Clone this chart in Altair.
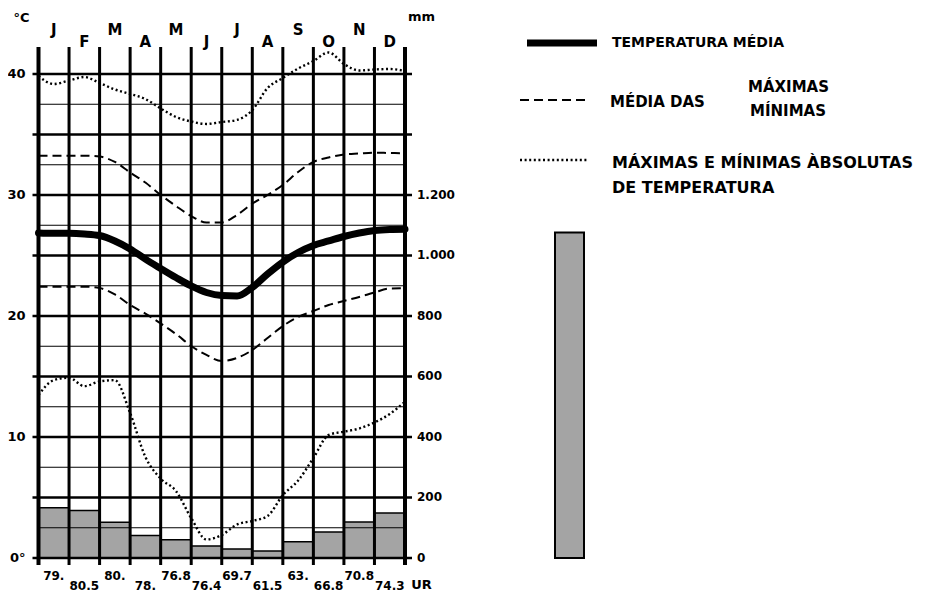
import altair as alt
import pandas as pd

months = ["J", "F", "M", "A", "M", "J", "J", "A", "S", "O", "N", "D"]
precip_mm = [166, 157, 118, 74, 60, 40, 30, 23, 54, 86, 119, 149]
humidity = ["79.", "80.5", "80.", "78.", "76.8", "76.4", "69.7", "61.5",
            "63.", "66.8", "70.8", "74.3"]

# curve readings every half month (0 = start of January, 12 = end of December)
curve_pos = [i / 2 for i in range(25)]
t_mean = [26.86, 26.83, 26.83, 26.78, 26.65, 26.2, 25.54, 24.7, 23.93, 23.18,
          22.48, 21.94, 21.69, 21.65, 22.36, 23.47, 24.46, 25.25, 25.83, 26.2,
          26.57, 26.86, 27.07, 27.15, 27.17]
t_max_mean = [33.25, 33.25, 33.25, 33.25, 33.18, 32.73, 31.86, 31.03, 30.0, 29.09,
              28.26, 27.73, 27.73, 28.35, 29.28, 30.0, 30.83, 31.9, 32.73, 33.1,
              33.35, 33.43, 33.5, 33.47, 33.45]
t_min_mean = [22.42, 22.42, 22.42, 22.42, 22.31, 21.78, 20.91, 20.2, 19.38, 18.51,
              17.52, 16.78, 16.28, 16.53, 17.19, 18.18, 19.17, 19.92, 20.41, 20.91,
              21.24, 21.57, 21.94, 22.27, 22.29]
t_max_abs = [39.83, 39.17, 39.46, 39.75, 39.26, 38.72, 38.35, 37.93, 37.15, 36.45,
             36.07, 35.87, 36.03, 36.2, 37.02, 38.84, 39.67, 40.45, 41.07, 41.78,
             40.83, 40.29, 40.37, 40.41, 40.25]
t_min_abs = [13.47, 14.7, 14.9, 14.2, 14.59, 14.7, 11.98, 8.35, 6.56, 5.54,
             3.3, 1.53, 1.9, 2.77, 3.06, 3.47, 5.2, 6.4, 8.26, 10.17,
             10.44, 10.7, 11.2, 11.9, 12.92]

temp_ticks = [0, 10, 20, 30, 40]
mm_ticks = [0, 200, 400, 600, 800, 1000, 1200]
grid_major = [0, 5, 10, 15, 20, 25, 30, 35, 40]
grid_minor = [2.5, 7.5, 12.5, 17.5, 22.5, 27.5, 32.5, 37.5]
boundaries = list(range(13))

# ---------------- layout ----------------
W, H = 366.5, 511
T_TOP = 42.23
MM_PER_DEG = 40
FONT = "DejaVu Sans"

xs = alt.Scale(domain=[0, 12], nice=False, zero=False)
ys = alt.Scale(domain=[0, T_TOP], nice=False, zero=False)
ms = alt.Scale(domain=[0, T_TOP * MM_PER_DEG], nice=False, zero=False)

bars_df = pd.DataFrame({"start": list(range(12)), "end": list(range(1, 13)), "mm": precip_mm})
month_df = pd.DataFrame({"i": list(range(12)), "m": months,
                         "c": [i + 0.5 for i in range(12)], "ur": humidity})

rows = []
for name, vals in [("mean", t_mean), ("maxm", t_max_mean), ("minm", t_min_mean),
                   ("maxa", t_max_abs), ("mina", t_min_abs)]:
    for p, v in zip(curve_pos, vals):
        rows.append({"s": name, "pos": p, "t": v})
curves_df = pd.DataFrame(rows)
one = pd.DataFrame({"k": [0]})

HATCH = "#a4a4a4"

# ---------------- precipitation (mm scale) ----------------
bars = alt.Chart(bars_df).transform_calculate(base="0").mark_rect(
    fill=HATCH, stroke="black", strokeWidth=1.5
).encode(
    x=alt.X("start:Q", scale=xs, axis=None),
    x2=alt.X2("end"),
    y=alt.Y("mm:Q", scale=ms, axis=None),
    y2=alt.Y2("base"),
)

annual = alt.Chart(bars_df).transform_aggregate(total="sum(mm)").transform_calculate(
    base="0"
).mark_rect(fill=HATCH, stroke="black", strokeWidth=2).encode(
    x=alt.value(516.5), x2=alt.value(545.5),
    y=alt.Y("total:Q", scale=ms, axis=None),
    y2=alt.Y2("base"),
)

# ---------------- grid ----------------
vlines = alt.Chart(pd.DataFrame({"b": boundaries})).mark_rule(color="black").encode(
    x=alt.X("b:Q", scale=xs, axis=None),
    y=alt.value(0), y2=alt.value(H + 7),
    strokeWidth=alt.condition("datum.b == 0 || datum.b == 12", alt.value(4), alt.value(3)),
)

hminor = alt.Chart(pd.DataFrame({"v": grid_minor})).mark_rule(color="black", strokeWidth=1.2).encode(
    y=alt.Y("v:Q", scale=ys, axis=None),
    x=alt.value(0), x2=alt.value(W),
)

hmajor = alt.Chart(pd.DataFrame({"v": grid_major})).mark_rule(color="black", strokeWidth=2.6).encode(
    y=alt.Y("v:Q", scale=ys, axis=None),
    x=alt.value(-6), x2=alt.value(W + 7),
)

# axis labels (left: °C, right: mm)
left_lab = alt.Chart(pd.DataFrame({"v": temp_ticks})).transform_calculate(
    lab="datum.v == 0 ? '0°' : format(datum.v, 'd')"
).mark_text(font=FONT, fontSize=13, fontWeight="bold", align="right",
            baseline="middle", color="black").encode(
    y=alt.Y("v:Q", scale=ys, axis=None), x=alt.value(-13), text="lab:N")

right_lab = alt.Chart(pd.DataFrame({"v": mm_ticks})).transform_calculate(
    lab="replace(format(datum.v, ','), ',', '.')"
).mark_text(font=FONT, fontSize=12, fontWeight="bold", align="left",
            baseline="middle", color="black").encode(
    y=alt.Y("v:Q", scale=ms, axis=None), x=alt.value(W + 12), text="lab:N")

# ---------------- temperature curves ----------------
def curve(series, **mk):
    return alt.Chart(curves_df).transform_filter(
        alt.FieldOneOfPredicate(field="s", oneOf=series)
    ).mark_line(color="black", interpolate="monotone", **mk).encode(
        x=alt.X("pos:Q", scale=xs, axis=None),
        y=alt.Y("t:Q", scale=ys, axis=None),
        detail="s:N",
    )

dashed = curve(["maxm", "minm"], strokeWidth=2, strokeDash=[9, 5])
dotted = curve(["maxa", "mina"], strokeWidth=2.4, strokeDash=[2, 2.6])
mean_line = curve(["mean"], strokeWidth=7, strokeCap="round")

# ---------------- month letters and humidity ----------------
def month_text(field, parity, ypix, size):
    return alt.Chart(month_df).transform_filter(f"datum.i % 2 == {parity}").mark_text(
        font=FONT, fontSize=size, fontWeight="bold", baseline="middle", color="black"
    ).encode(
        x=alt.X("c:Q", scale=xs, axis=None),
        y=alt.value(ypix),
        text=f"{field}:N",
    )

m_hi = month_text("m", 0, -17, 15)
m_lo = month_text("m", 1, -5, 15)
ur_hi = month_text("ur", 0, 528.5, 12)
ur_lo = month_text("ur", 1, 538.5, 12)

def label(txt, xp, yp, size=14, align="left"):
    return alt.Chart(one).mark_text(
        text=txt, font=FONT, fontSize=size, fontWeight="bold",
        align=align, baseline="middle", color="black"
    ).encode(x=alt.value(xp), y=alt.value(yp))

deg_c = label("°C", -17, -29, 13, "center")
mm_lab = label("mm", 383, -30, 13, "center")
ur_lab = label("UR", 383, 538, 13, "center")

# ---------------- legend ----------------
def leg_rule(x1, x2, yp, **mk):
    return alt.Chart(one).mark_rule(color="black", **mk).encode(
        x=alt.value(x1), x2=alt.value(x2), y=alt.value(yp))

leg1 = leg_rule(488.5, 558.5, -4, strokeWidth=7)
leg2 = leg_rule(481.5, 548.5, 53, strokeWidth=2, strokeDash=[9, 5])
leg3 = leg_rule(481.5, 548.5, 113, strokeWidth=2.4, strokeDash=[2, 2.6])

t1 = label("TEMPERATURA MÉDIA", 573.5, -4, 14)
t2 = label("MÉDIA DAS", 571.5, 55, 15)
t2a = label("MÁXIMAS", 709.5, 40, 15)
t2b = label("MÍNIMAS", 711.5, 64, 15)
t3 = label("MÁXIMAS E MÍNIMAS ÀBSOLUTAS", 573.5, 115.5, 16)
t3b = label("DE TEMPERATURA", 573.5, 141, 16)

chart = alt.layer(
    bars, annual, vlines, hminor, hmajor, left_lab, right_lab,
    dashed, dotted, mean_line,
    m_hi, m_lo, ur_hi, ur_lo, deg_c, mm_lab, ur_lab,
    leg1, leg2, leg3, t1, t2, t2a, t2b, t3, t3b,
).resolve_scale(y="independent").properties(
    width=W, height=H,
    padding={"left": 30.5, "top": 39, "right": 518, "bottom": 34},
    autosize=alt.AutoSizeParams(type="none"),
    background="white",
).configure_view(stroke=None)

chart.save("out.html", embed_options={"renderer": "svg", "actions": False})
